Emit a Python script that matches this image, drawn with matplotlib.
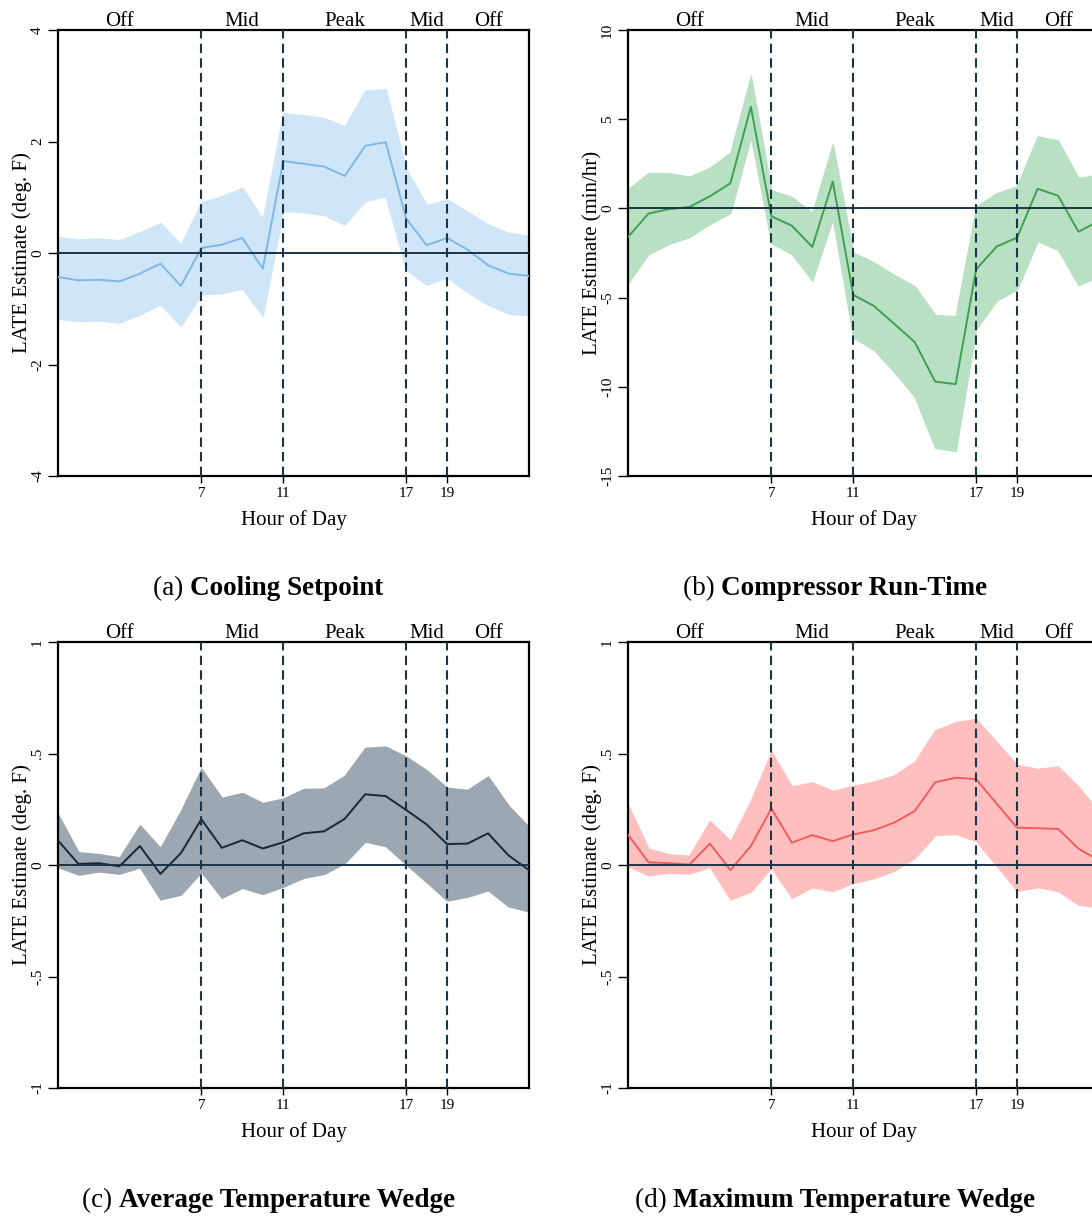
import numpy as np
import matplotlib.pyplot as plt
from matplotlib import transforms

plt.rcParams['font.family'] = ['Liberation Serif', 'DejaVu Serif']

# hours of day
hours = list(range(24))

# (a) cooling setpoint
a_est = [-0.43, -0.49, -0.48, -0.51, -0.37, -0.19, -0.59, 0.09, 0.15, 0.27, -0.28, 1.65,
         1.60, 1.55, 1.38, 1.92, 1.99, 0.62, 0.14, 0.27, 0.06, -0.22, -0.37, -0.41]
a_hi = [0.29, 0.24, 0.26, 0.23, 0.37, 0.54, 0.15, 0.91, 1.02, 1.17, 0.61, 2.51,
        2.47, 2.42, 2.27, 2.91, 2.94, 1.51, 0.86, 0.96, 0.74, 0.51, 0.36, 0.31]
a_lo = [-1.18, -1.22, -1.21, -1.25, -1.10, -0.92, -1.31, -0.74, -0.72, -0.64, -1.13, 0.76,
        0.73, 0.68, 0.51, 0.93, 1.02, -0.30, -0.57, -0.44, -0.70, -0.93, -1.09, -1.12]

# (b) compressor run-time
b_est = [-1.60, -0.29, -0.04, 0.08, 0.68, 1.41, 5.69, -0.44, -0.97, -2.16, 1.51, -4.85,
         -5.46, -6.47, -7.49, -9.71, -9.85, -3.42, -2.14, -1.64, 1.10, 0.71, -1.31, -0.70]
b_hi = [1.06, 1.99, 1.97, 1.78, 2.28, 3.13, 7.43, 1.02, 0.64, -0.25, 3.61, -2.47,
        -3.03, -3.73, -4.36, -5.98, -6.04, 0.10, 0.85, 1.25, 4.03, 3.80, 1.70, 1.90]
b_lo = [-4.19, -2.57, -1.99, -1.60, -0.87, -0.25, 4.00, -1.93, -2.57, -4.05, -0.58, -7.24,
        -7.92, -9.17, -10.56, -13.42, -13.61, -6.76, -5.17, -4.54, -1.83, -2.32, -4.31, -3.80]

# (c) average temperature wedge
c_est = [0.110, 0.005, 0.008, -0.006, 0.085, -0.040, 0.053, 0.205, 0.077, 0.111, 0.074, 0.102,
         0.142, 0.151, 0.207, 0.317, 0.309, 0.247, 0.182, 0.094, 0.096, 0.142, 0.043, -0.023]
c_hi = [0.227, 0.057, 0.049, 0.034, 0.178, 0.077, 0.242, 0.432, 0.301, 0.323, 0.278, 0.298,
        0.341, 0.343, 0.400, 0.525, 0.531, 0.486, 0.425, 0.346, 0.337, 0.397, 0.266, 0.170]
c_lo = [-0.009, -0.043, -0.029, -0.039, -0.011, -0.154, -0.133, -0.031, -0.147, -0.102, -0.130, -0.097,
        -0.057, -0.040, 0.009, 0.105, 0.085, 0.003, -0.077, -0.159, -0.142, -0.113, -0.185, -0.208]

# (d) maximum temperature wedge
d_est = [0.136, 0.012, 0.008, 0.002, 0.096, -0.023, 0.085, 0.253, 0.100, 0.134, 0.107, 0.137,
         0.156, 0.190, 0.242, 0.371, 0.391, 0.385, 0.275, 0.167, 0.165, 0.162, 0.073, 0.020]
d_hi = [0.270, 0.073, 0.048, 0.042, 0.198, 0.108, 0.289, 0.508, 0.352, 0.371, 0.332, 0.355,
        0.374, 0.402, 0.463, 0.604, 0.641, 0.655, 0.551, 0.449, 0.431, 0.442, 0.351, 0.240]
d_lo = [-0.005, -0.046, -0.034, -0.039, -0.008, -0.154, -0.119, -0.012, -0.147, -0.100, -0.117, -0.080,
        -0.059, -0.026, 0.031, 0.134, 0.139, 0.108, -0.003, -0.116, -0.099, -0.117, -0.178, -0.190]

period_bounds = [7, 11, 17, 19]
period_names = ['Off', 'Mid', 'Peak', 'Mid', 'Off']
period_mid = [3, 9, 14, 18, 21]

navy = '#1c3448'
W, H = 1092, 1216

fig = plt.figure(figsize=(W / 100, H / 100), dpi=100)


def panel(left_px, bottom_px, est, lo, hi, line_col, fill_col, yticks, ylabels, ylab):
    ax = fig.add_axes([left_px / W, 1 - bottom_px / H, 471 / W, 446 / H])
    ax.fill_between(hours, lo, hi, color=fill_col, edgecolor=fill_col, lw=1, zorder=1)
    ax.plot(hours, est, color=line_col, lw=1.4, zorder=3)
    ax.axhline(0, color=navy, lw=1.4, zorder=4)
    for h in period_bounds:
        ax.axvline(h, color=navy, lw=1.5, ls=(0, (4.5, 2.5)), zorder=5)
    ax.set_xlim(0, 23)
    ax.set_ylim(yticks[0], yticks[-1])
    ax.set_xticks(period_bounds)
    ax.set_xticklabels([str(h) for h in period_bounds], fontsize=11)
    ax.set_yticks(yticks)
    ax.set_yticklabels(ylabels, fontsize=11, rotation=90, va='center')
    ax.tick_params(axis='y', length=7, width=1, pad=3)
    ax.tick_params(axis='x', length=5, width=1, pad=3)
    for s in ax.spines.values():
        s.set_linewidth(1.6)
    ax.set_xlabel('Hour of Day', fontsize=15, labelpad=7)
    ax.set_ylabel(ylab, fontsize=15, labelpad=-1)
    trans = transforms.blended_transform_factory(ax.transData, ax.transAxes)
    for name, h in zip(period_names, period_mid):
        ax.text(h, 1 + 4 / 446, name, transform=trans, ha='center', va='baseline', fontsize=15)
    return ax


panel(58, 476, a_est, a_lo, a_hi, '#7db8e8', '#cfe5f8',
      [-4, -2, 0, 2, 4], ['-4', '-2', '0', '2', '4'], 'LATE Estimate (deg. F)')
panel(628, 476, b_est, b_lo, b_hi, '#3f9f52', '#b8e0c2',
      [-15, -10, -5, 0, 5, 10], ['-15', '-10', '-5', '0', '5', '10'], 'LATE Estimate (min/hr)')
panel(58, 1088, c_est, c_lo, c_hi, '#132838', '#9ba8b1',
      [-1, -0.5, 0, 0.5, 1], ['-1', '-.5', '0', '.5', '1'], 'LATE Estimate (deg. F)')
panel(628, 1088, d_est, d_lo, d_hi, '#f25c5c', '#ffbfbf',
      [-1, -0.5, 0, 0.5, 1], ['-1', '-.5', '0', '.5', '1'], 'LATE Estimate (deg. F)')

# captions: normal tag + bold title, centred as a pair
captions = [('(a) ', 'Cooling Setpoint', 268, 595),
            ('(b) ', 'Compressor Run-Time', 835, 595),
            ('(c) ', 'Average Temperature Wedge', 269, 1207),
            ('(d) ', 'Maximum Temperature Wedge', 835, 1207)]
renderer = fig.canvas.get_renderer()
for tag, title, cx, by in captions:
    t1 = fig.text(0, 1 - by / H, tag, fontsize=19.5, ha='left', va='baseline')
    t2 = fig.text(0, 1 - by / H, title, fontsize=19.5, fontweight='bold', ha='left', va='baseline')
    w1 = t1.get_window_extent(renderer).width
    w2 = t2.get_window_extent(renderer).width
    x0 = cx - (w1 + w2) / 2
    t1.set_x(x0 / W)
    t2.set_x((x0 + w1) / W)

fig.savefig('out.png', dpi=100)
